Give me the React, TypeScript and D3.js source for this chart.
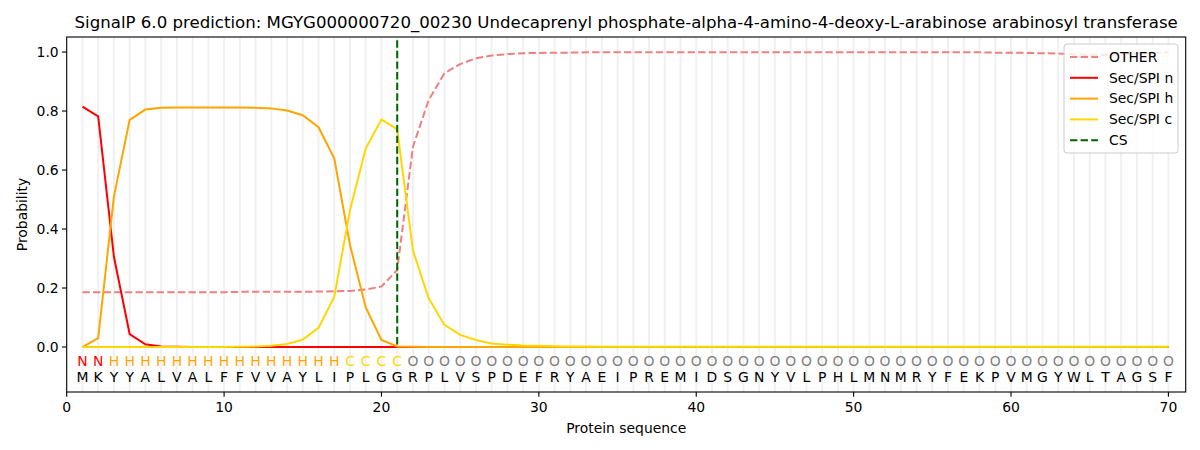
import React from "react";
import * as d3 from "d3";

const title =
  "SignalP 6.0 prediction: MGYG000000720_00230 Undecaprenyl phosphate-alpha-4-amino-4-deoxy-L-arabinose arabinosyl transferase";

const sequence = "MKYYALVALFFVVAYLIPLGGRPLVSPDEFRYAEIPREMIDSGNYVLPHLMNMRYFEKPVMGYWLTAGSF".split("");
const regionLabels = "NNHHHHHHHHHHHHHHHCCCCOOOOOOOOOOOOOOOOOOOOOOOOOOOOOOOOOOOOOOOOOOOOOOOOO".split("");

const other = [
  0.186, 0.186, 0.186, 0.186, 0.186, 0.186, 0.186, 0.186, 0.186, 0.186,
  0.187, 0.187, 0.187, 0.187, 0.187, 0.188, 0.189, 0.19, 0.195, 0.205,
  0.261, 0.679, 0.837, 0.928, 0.959, 0.979, 0.988, 0.993, 0.996, 0.997,
  0.998, 0.998, 0.999, 0.999, 0.999, 0.999, 0.999, 0.999, 0.999, 0.999,
  0.999, 0.999, 0.999, 0.999, 0.999, 0.999, 0.999, 0.999, 0.999, 0.999,
  0.999, 0.999, 0.999, 0.999, 0.999, 0.999, 0.999, 0.999, 0.998, 0.998,
  0.997, 0.996, 0.995, 0.992, 0.99, 0.99, 0.992, 0.995, 0.997, 0.999,
];
const secN = [
  0.815, 0.782, 0.306, 0.044, 0.009, 0.002, 0.001, 0, 0, 0,
  0, 0, 0, 0, 0, 0, 0, 0, 0, 0,
  0, 0, 0, 0, 0, 0, 0, 0, 0, 0,
  0, 0, 0, 0, 0, 0, 0, 0, 0, 0,
  0, 0, 0, 0, 0, 0, 0, 0, 0, 0,
  0, 0, 0, 0, 0, 0, 0, 0, 0, 0,
  0, 0, 0, 0, 0, 0, 0, 0, 0, 0,
];
const secH = [
  0, 0.03, 0.51, 0.77, 0.805, 0.811, 0.812, 0.812, 0.812, 0.812,
  0.812, 0.811, 0.809, 0.802, 0.786, 0.745, 0.64, 0.346, 0.134, 0.024,
  0.002, 0.001, 0, 0, 0, 0, 0, 0, 0, 0,
  0, 0, 0, 0, 0, 0, 0, 0, 0, 0,
  0, 0, 0, 0, 0, 0, 0, 0, 0, 0,
  0, 0, 0, 0, 0, 0, 0, 0, 0, 0,
  0, 0, 0, 0, 0, 0, 0, 0, 0, 0,
];
const secC = [
  0, 0, 0, 0, 0, 0, 0, 0, 0, 0,
  0.001, 0.002, 0.004, 0.01, 0.025, 0.065, 0.17, 0.464, 0.673, 0.772,
  0.738, 0.327, 0.165, 0.075, 0.041, 0.024, 0.012, 0.008, 0.005, 0.004,
  0.003, 0.002, 0.002, 0.001, 0.001, 0.001, 0.001, 0.001, 0.001, 0.001,
  0.001, 0.001, 0.001, 0.001, 0.001, 0.001, 0.001, 0.001, 0.001, 0.001,
  0.001, 0.001, 0.001, 0.001, 0.001, 0.001, 0.001, 0.001, 0.001, 0.001,
  0.001, 0.001, 0.001, 0.001, 0.001, 0.001, 0.001, 0.001, 0.001, 0.001,
];
const cleavageSite = 21;

const xTicks = [0, 10, 20, 30, 40, 50, 60, 70];
const yTicks = [0, 0.2, 0.4, 0.6, 0.8, 1.0];

const series = [
  { name: "OTHER", values: other, color: "#f08080", dash: "7.4,3.2" },
  { name: "Sec/SPI n", values: secN, color: "#ff0000", dash: null },
  { name: "Sec/SPI h", values: secH, color: "#ffa500", dash: null },
  { name: "Sec/SPI c", values: secC, color: "#ffd700", dash: null },
];

const labelColor = { N: "#ff0000", H: "#ffa500", C: "#ffd700", O: "#808080" };

const font = "DejaVu Sans, sans-serif";
const fs = 13.9;

const App = () => {
  const margin = { top: 37, right: 14.3, bottom: 58, left: 66.7 };
  const width = 1200;
  const height = 450;
  const iw = width - margin.left - margin.right;
  const ih = height - margin.top - margin.bottom;

  const x = d3.scaleLinear().domain([0, 71.1]).range([0, iw]);
  const y = d3.scaleLinear().domain([-0.1525, 1.051]).range([ih, 0]);

  const line = d3
    .line<number>()
    .x((_, i) => x(i + 1))
    .y((d) => y(d));

  const positions = sequence.map((_, i) => i + 1);

  return (
    <svg
      width={width}
      height={height}
      style={{ position: "absolute", left: 0, top: 0, background: "#fff" }}
      fontFamily={font}
    >
      <text x={margin.left + iw / 2} y={28} textAnchor="middle" fontSize={16.6}>
        {title}
      </text>
      <g transform={`translate(${margin.left},${margin.top})`}>
        {/* position guides */}
        {positions.map((p) => (
          <line
            key={`g${p}`}
            x1={x(p)}
            x2={x(p)}
            y1={0}
            y2={ih}
            stroke="#000"
            strokeOpacity={0.06}
            strokeWidth={2}
          />
        ))}

        {series.map((s) => (
          <path
            key={s.name}
            d={line(s.values) || ""}
            fill="none"
            stroke={s.color}
            strokeWidth={2}
            strokeDasharray={s.dash || undefined}
          />
        ))}

        <line
          x1={x(cleavageSite)}
          x2={x(cleavageSite)}
          y1={y(1.04)}
          y2={y(0)}
          stroke="#006400"
          strokeWidth={2}
          strokeDasharray="7.4,3.2"
        />

        {/* residue labels */}
        {regionLabels.map((l, i) => (
          <text
            key={`l${i}`}
            x={x(i + 1)}
            y={y(-0.066)}
            textAnchor="middle"
            fontSize={fs}
            fill={labelColor[l]}
          >
            {l}
          </text>
        ))}
        {sequence.map((s, i) => (
          <text
            key={`s${i}`}
            x={x(i + 1)}
            y={y(-0.117)}
            textAnchor="middle"
            fontSize={fs}
            fill="#000"
          >
            {s}
          </text>
        ))}

        {/* axes */}
        <rect x={0} y={0} width={iw} height={ih} fill="none" stroke="#000" strokeWidth={1.1} />
        {xTicks.map((t) => (
          <g key={`x${t}`} transform={`translate(${x(t)},${ih})`}>
            <line y1={0} y2={4.7} stroke="#000" strokeWidth={1.1} />
            <text y={19.5} textAnchor="middle" fontSize={fs}>
              {t}
            </text>
          </g>
        ))}
        {yTicks.map((t) => (
          <g key={`y${t}`} transform={`translate(0,${y(t)})`}>
            <line x1={0} x2={-4.7} stroke="#000" strokeWidth={1.1} />
            <text x={-8} dy="0.35em" textAnchor="end" fontSize={fs}>
              {t.toFixed(1)}
            </text>
          </g>
        ))}
        <text x={iw / 2} y={ih + 41} textAnchor="middle" fontSize={fs}>
          Protein sequence
        </text>
        <text
          transform={`translate(${-40},${ih / 2}) rotate(-90)`}
          textAnchor="middle"
          fontSize={fs}
        >
          Probability
        </text>
      </g>

      {/* legend */}
      <g transform="translate(1064,44)">
        <rect
          width={114}
          height={109}
          rx={3}
          fill="#fff"
          fillOpacity={0.8}
          stroke="#cccccc"
          strokeWidth={1}
        />
        {[
          ...series.map((s) => ({ name: s.name, color: s.color, dash: s.dash })),
          { name: "CS", color: "#006400", dash: "7.4,3.2" },
        ].map((e, i) => (
          <g key={e.name} transform={`translate(0,${13 + i * 20.8})`}>
            <line
              x1={6}
              x2={34}
              stroke={e.color}
              strokeWidth={2}
              strokeDasharray={e.dash || undefined}
            />
            <text x={45} dy="0.35em" fontSize={fs}>
              {e.name}
            </text>
          </g>
        ))}
      </g>
    </svg>
  );
};

export default App;
